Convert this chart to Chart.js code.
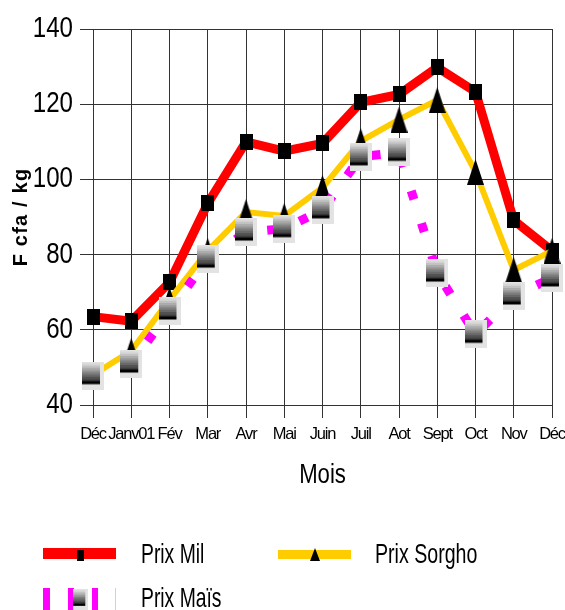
<!DOCTYPE html>
<html>
<head>
<meta charset="utf-8">
<script src="https://cdn.jsdelivr.net/npm/chart.js@4.4.1/dist/chart.umd.min.js"></script>
<style>
  html, body { margin: 0; padding: 0; background: #fff; }
  #wrap { position: relative; width: 565px; height: 610px; overflow: hidden; }
  #chart { position: absolute; left: 0; top: 0; }
  .key { position: absolute; }
  .txt {
    position: absolute; font: 28px 'Liberation Sans', Arial, sans-serif; line-height: 28px;
    white-space: nowrap; transform-origin: left top; transform: scaleX(0.69); color: #000;
  }
</style>
</head>
<body>
<div id="wrap">
  <canvas id="chart" width="565" height="610"></canvas>

  <!-- legend: Prix Mil -->
  <div class="key" style="left:43px;top:548px;width:73px;height:11px;background:#ff0000"></div>
  <div class="key" style="left:77px;top:550px;width:7px;height:11px;background:#000"></div>
  <div class="txt" style="left:141px;top:540px">Prix Mil</div>

  <!-- legend: Prix Sorgho -->
  <div class="key" style="left:278px;top:550px;width:73px;height:9px;background:#ffcc00"></div>
  <div class="key" style="left:310px;top:548px;width:0;height:0;border-left:5px solid transparent;border-right:5px solid transparent;border-bottom:13px solid #000"></div>
  <div class="txt" style="left:375px;top:540px;transform:scaleX(0.7)">Prix Sorgho</div>

  <!-- legend: Prix Maïs -->
  <div class="key" style="left:43px;top:588px;width:7px;height:22px;background:#ff00ff"></div>
  <div class="key" style="left:68px;top:588px;width:6px;height:22px;background:#ff00ff"></div>
  <div class="key" style="left:92px;top:588px;width:6px;height:22px;background:#ff00ff"></div>
  <div class="key" style="left:115px;top:588px;width:1px;height:22px;background:#ff00ff;opacity:0.3"></div>
  <canvas id="maisKey" class="key" width="15" height="21" style="left:73px;top:589px"></canvas>
  <div class="txt" style="left:141px;top:584px">Prix Maïs</div>
</div>

<script>
// Months on the x axis (as printed on the chart)
const months = ['Déc', 'Janv01', 'Fév', 'Mar', 'Avr', 'Mai', 'Juin', 'Juil', 'Aot', 'Sept', 'Oct', 'Nov', 'Déc'];

// Prices in F cfa / kg
const prixMil    = [63.5, 62.3, 72.6, 93.6, 110, 107.5, 109.6, 120.5, 122.6, 129.8, 123.3, 89.1, 81];
const prixSorgho = [48, 54.4, 68, 81, 91.3, 90.3, 97.8, 110.2, 115.9, 121.1, 102, 75.9, 81];
const prixMais   = [47.8, 50.9, 65, 78.8, 86, 86.9, 91.9, 106, 107.2, 75.1, 58.8, 69, 73.8];

// Y axis tick values
const yTicks = [40, 60, 80, 100, 120, 140];

Chart.defaults.font.family = "'Liberation Sans', Arial, sans-serif";
Chart.defaults.color = '#000';

// Small helper to paint a marker image on an offscreen canvas
function makeMarker(w, h, paint) {
    const c = document.createElement('canvas');
    c.width = w;
    c.height = h;
    paint(c.getContext('2d'), w, h);
    return c;
}

// Grey "gradient box" marker used for Maïs (chart and legend)
function paintMais(g, w, h) {
    g.fillStyle = '#e3e3e3';
    g.fillRect(0, 0, w, h);
    const iw = w * 18 / 22;
    const top = h * 1.5 / 28;
    const gh = h * 18 / 28;
    const bands = 8;
    for (let i = 0; i < bands; i++) {
        const v = Math.round(215 - i * (215 - 60) / (bands - 1));
        g.fillStyle = `rgb(${v},${v},${v})`;
        g.fillRect(0, top + i * gh / bands, iw, gh / bands + 0.5);
    }
    g.fillStyle = '#000';
    g.fillRect(0, top + gh, iw, h * 3 / 28);
}

const milMarker = makeMarker(13, 16, (g, w, h) => {
    g.fillStyle = '#000';
    g.fillRect(0, 0, w, h);
});

const sorghoMarker = makeMarker(17, 26, (g, w, h) => {
    g.fillStyle = '#000';
    g.beginPath();
    g.moveTo(w / 2, 0);
    g.lineTo(w, h);
    g.lineTo(0, h);
    g.closePath();
    g.fill();
});

const maisMarker = makeMarker(22, 28, paintMais);
paintMais(document.getElementById('maisKey').getContext('2d'), 15, 21);

// The reference uses a horizontally condensed font; squeeze the labels a little
const squeezeText = {
    id: 'squeezeText',
    beforeDraw(chart) {
        const y = chart.scales.y;
        const x = chart.scales.x;
        if (!y._squeezed) {
            const drawY = y.drawLabels;
            y.drawLabels = function (area) {
                const ctx = this.ctx;
                const ax = this.right - this.options.grid.tickLength - this.options.ticks.padding;
                ctx.save();
                ctx.translate(ax, 0);
                ctx.scale(0.83, 1);
                ctx.translate(-ax, 0);
                drawY.call(this, area);
                ctx.restore();
            };
            const drawYT = y.drawTitle;
            y.drawTitle = function () {
                const ctx = this.ctx;
                ctx.save();
                ctx.letterSpacing = '1.2px';
                drawYT.call(this);
                ctx.restore();
            };
            y._squeezed = true;
        }
        if (!x._squeezed) {
            const drawX = x.drawLabels;
            x.drawLabels = function (area) {
                const ctx = this.ctx;
                ctx.save();
                ctx.letterSpacing = '-1.2px';
                drawX.call(this, area);
                ctx.restore();
            };
            const drawT = x.drawTitle;
            x.drawTitle = function () {
                const ctx = this.ctx;
                const cx = (this.left + this.right) / 2;
                ctx.save();
                ctx.translate(cx, 0);
                ctx.scale(0.82, 1);
                ctx.translate(-cx, 0);
                drawT.call(this);
                ctx.restore();
            };
            x._squeezed = true;
        }
    }
};

const ctx = document.getElementById('chart').getContext('2d');

new Chart(ctx, {
    type: 'line',
    data: {
        labels: months,
        datasets: [
            {
                label: 'Prix Mil',
                data: prixMil,
                borderColor: '#ff0000',
                borderWidth: 9,
                pointStyle: milMarker,
                pointRadius: 8,
                order: 2,
                clip: false
            },
            {
                label: 'Prix Sorgho',
                data: prixSorgho,
                borderColor: '#ffcc00',
                borderWidth: 6,
                pointStyle: sorghoMarker,
                pointRadius: 8,
                order: 1,
                clip: false
            },
            {
                label: 'Prix Maïs',
                data: prixMais,
                borderColor: '#ff00ff',
                borderWidth: 9,
                borderDash: [9, 25],
                pointStyle: maisMarker,
                pointRadius: 8,
                order: 0,
                clip: false
            }
        ]
    },
    options: {
        responsive: false,
        animation: false,
        devicePixelRatio: 1,
        layout: { autoPadding: false, padding: { left: 0, right: 13, top: 29, bottom: 118 } },
        elements: { line: { tension: 0 } },
        plugins: {
            legend: { display: false },
            tooltip: { enabled: false }
        },
        scales: {
            x: {
                offset: false,
                grid: { color: '#333', lineWidth: 1, tickLength: 13, drawTicks: true },
                border: { color: '#333' },
                ticks: { autoSkip: false, maxRotation: 0, minRotation: 0, padding: 7, font: { size: 16.5 } },
                title: { display: true, text: 'Mois', font: { size: 27 }, padding: 0 },
                afterFit: s => {
                    s.height = 87;
                    // let the end labels hang over the edges instead of shrinking the plot
                    s.paddingLeft = 0;
                    s.paddingRight = 0;
                }
            },
            y: {
                min: 40,
                max: 140,
                grid: { color: '#333', lineWidth: 1, tickLength: 13 },
                border: { color: '#333' },
                ticks: { padding: 7, font: { size: 29 } },
                afterBuildTicks: s => { s.ticks = yTicks.map(v => ({ value: v })); },
                title: { display: true, text: 'F cfa / kg', font: { size: 20, weight: 'bold' }, padding: { top: 9, bottom: 0 } },
                afterFit: s => { s.width = 93; }
            }
        }
    },
    plugins: [squeezeText]
});
</script>
</body>
</html>
